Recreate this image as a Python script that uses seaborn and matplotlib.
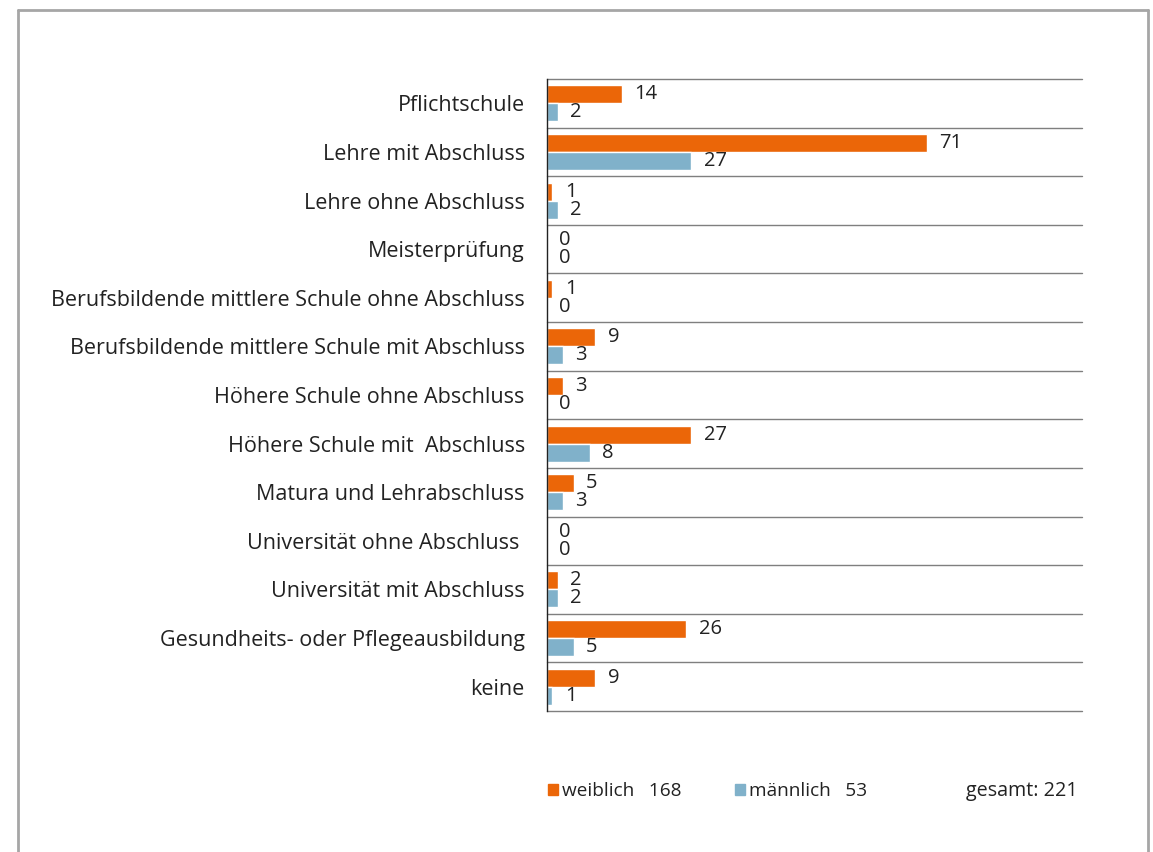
import pandas as pd
import matplotlib.pyplot as plt
import seaborn as sns
from matplotlib.patches import Patch

kategorien = ['Pflichtschule', 'Lehre mit Abschluss', 'Lehre ohne Abschluss', 'Meisterprüfung',
              'Berufsbildende mittlere Schule ohne Abschluss', 'Berufsbildende mittlere Schule mit Abschluss',
              'Höhere Schule ohne Abschluss', 'Höhere Schule mit  Abschluss', 'Matura und Lehrabschluss',
              'Universität ohne Abschluss ', 'Universität mit Abschluss', 'Gesundheits- oder Pflegeausbildung',
              'keine']
weiblich = [14, 71, 1, 0, 1, 9, 3, 27, 5, 0, 2, 26, 9]
maennlich = [2, 27, 2, 0, 0, 3, 0, 8, 3, 0, 2, 5, 1]
gruppen = ['weiblich', 'männlich']
farben = ['#EB6608', '#80B1CA']

df = pd.DataFrame({
    'Kategorie': kategorien * 2,
    'Anzahl': weiblich + maennlich,
    'Geschlecht': ['weiblich'] * len(kategorien) + ['männlich'] * len(kategorien),
})

sns.set_style('white')
plt.rcParams['font.family'] = ['Open Sans', 'DejaVu Sans']
fs = 14.2

fig = plt.figure(figsize=(11.53, 8.52), dpi=100)
ax = fig.add_axes([0.4744, 0.1655, 0.464, 0.7418])

sns.barplot(df, x='Anzahl', y='Kategorie', hue='Geschlecht', hue_order=gruppen,
            palette=farben, orient='h', width=0.74, ax=ax, legend=False, saturation=1)

for c in ax.containers:
    ax.bar_label(c, padding=9, fontsize=14.5, color='#222222')

ax.set_xlim(0, 100)
ax.set_ylim(len(kategorien) - 0.5, -0.5)
for i in range(len(kategorien) + 1):
    ax.axhline(i - 0.5, color='#7f7f7f', lw=1, clip_on=False)
ax.set_xlabel('')
ax.set_ylabel('')
ax.set_xticks([])
ax.tick_params(axis='y', length=0, pad=16, labelsize=15.5, labelcolor='#222222')
for s in ['top', 'right', 'bottom']:
    ax.spines[s].set_visible(False)
ax.spines['left'].set_color('#222222')
ax.spines['left'].set_linewidth(1)

# Legende unten
handles = [Patch(color=f) for f in farben]
labels = [f'weiblich   {sum(weiblich)}', f'männlich   {sum(maennlich)}']
fig.legend(handles, labels, ncol=2, frameon=False, loc='center left',
           bbox_to_anchor=(0.46, 1 - 791 / 852), handlelength=0.55, handleheight=0.55,
           handletextpad=0.2, columnspacing=2.8, fontsize=13.7, labelcolor='#222222')
fig.text(1078 / 1153, 1 - 791 / 852, f'gesamt: {sum(weiblich) + sum(maennlich)}',
         ha='right', va='center', fontsize=fs, color='#222222')

# Rahmen
rahmen = dict(color='#a6a6a6', lw=2, transform=fig.transFigure)
fig.add_artist(plt.Line2D([18 / 1153, 18 / 1153], [0, 1 - 10 / 852], **rahmen))
fig.add_artist(plt.Line2D([18 / 1153, 1148 / 1153], [1 - 10 / 852, 1 - 10 / 852], **rahmen))
fig.add_artist(plt.Line2D([1148 / 1153, 1148 / 1153], [0, 1 - 10 / 852], **rahmen))

fig.savefig('out.png', dpi=100)
